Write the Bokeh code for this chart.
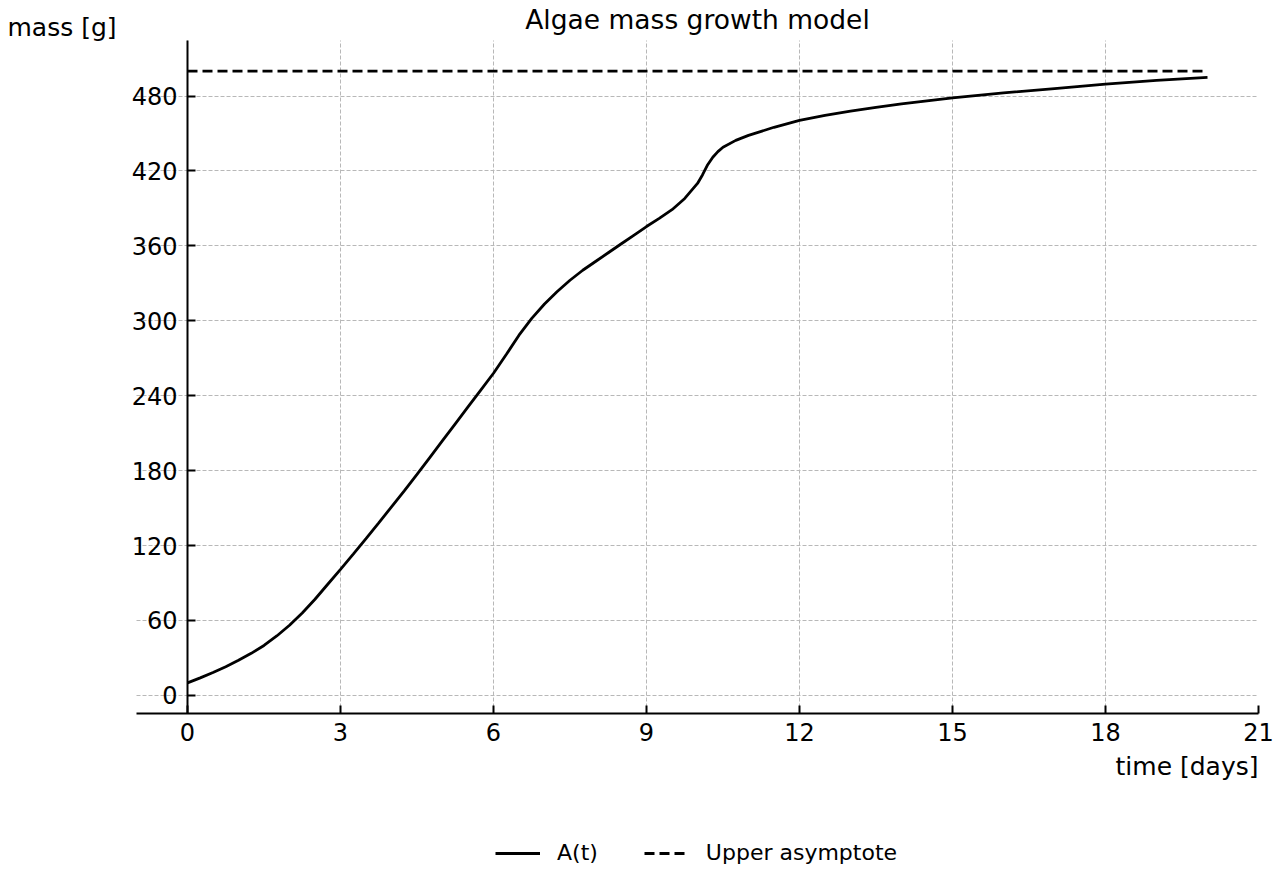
from bokeh.plotting import figure
from bokeh.models import Range1d, Legend, LegendItem, Label, FixedTicker
from bokeh.embed import file_html
from bokeh.resources import INLINE

# ---- data ----
t_days = [0, 0.25, 0.5, 0.75, 1, 1.25, 1.5, 1.75, 2, 2.25, 2.5, 2.75, 3, 3.25, 3.5, 3.75,
          4, 4.25, 4.5, 4.75, 5, 5.25, 5.5, 5.75, 6, 6.25, 6.5, 6.75, 7, 7.25, 7.5, 7.75,
          8, 8.25, 8.5, 8.75, 9, 9.25, 9.5, 9.75, 10, 10.1, 10.2, 10.3, 10.4, 10.5, 10.75,
          11, 11.5, 12, 12.5, 13, 13.5, 14, 15, 16, 17, 18, 19, 20]
mass_g = [10, 14, 18.3, 23, 28.1, 33.7, 40, 47.6, 56.2, 66, 77, 89, 101, 113.2, 125.6, 138.2,
          151, 163.8, 177, 190.5, 204, 217.5, 231, 244.5, 258, 273, 288.5, 302, 313.5, 323.5, 332.5, 340.5,
          347.5, 354.5, 361.5, 368.5, 375.5, 382, 389, 398, 410, 417, 425, 431, 435.5, 439, 444.5,
          448.5, 455, 460.5, 464.5, 468, 471, 473.8, 478.5, 482.5, 486, 489.5, 492.5, 495]
asym_t = [0, 20]
asym_mass = [500, 500]
x_ticks = [0, 3, 6, 9, 12, 15, 18, 21]
y_ticks = [0, 60, 120, 180, 240, 300, 360, 420, 480]
x_lo, x_hi = -1, 21
y_lo, y_hi = -14.5, 524.5

FONT = "DejaVu Sans"
W, H = 1280, 880
FL, FR, FT, FB = 136, 1258, 40, 713   # axes box in canvas pixels
sx = (FR - FL) / (x_hi - x_lo)
sy = (FB - FT) / (y_hi - y_lo)

p = figure(width=W, height=H, output_backend="svg", toolbar_location=None,
           x_range=Range1d(x_lo - FL / sx, x_hi + (W - FR) / sx),
           y_range=Range1d(y_lo - (H - FB) / sy, y_hi + FT / sy),
           min_border=0)
p.outline_line_color = None
p.background_fill_color = "white"
p.border_fill_color = "white"

for ax, ticks in ((p.xaxis, x_ticks), (p.yaxis, y_ticks)):
    ax.ticker = ticks
    ax.minor_tick_line_color = None
    ax.major_tick_in = 8
    ax.major_tick_out = 0
    ax.major_tick_line_width = 2
    ax.axis_line_width = 2
    ax.axis_line_color = "black"
    ax.major_tick_line_color = "black"
    ax.major_label_text_font = FONT
    ax.major_label_text_font_size = "24px"
    ax.major_label_text_color = "black"
p.xaxis.fixed_location = y_lo
p.xaxis.bounds = (x_lo, x_hi)
p.xaxis.major_label_standoff = 9
p.yaxis.fixed_location = 0
p.yaxis.bounds = (y_lo, y_hi)
p.yaxis.major_label_standoff = 10

p.xgrid.ticker = FixedTicker(ticks=[t for t in x_ticks if t < x_hi])
p.xgrid.cross_bounds = (y_lo, y_hi)
p.ygrid.cross_bounds = (x_lo, x_hi)
for g in (p.xgrid, p.ygrid):
    g.grid_line_color = "#b8b8b8"
    g.grid_line_dash = "4 2"
    g.grid_line_width = 1

r1 = p.line(t_days, mass_g, line_color="black", line_width=2.8)
r2 = p.line(asym_t, asym_mass, line_color="black", line_width=2.8, line_dash="10 5")

legend = Legend(items=[LegendItem(label="A(t)", renderers=[r1]),
                       LegendItem(label="Upper asymptote", renderers=[r2])],
                orientation="horizontal", location=(495, 15),
                glyph_width=45, glyph_height=20, label_standoff=17, spacing=46,
                padding=0, margin=0, border_line_color=None, background_fill_alpha=0,
                label_text_font=FONT, label_text_font_size="22px", label_text_color="black")
p.add_layout(legend, "center")

p.add_layout(Label(x=(x_lo + x_hi) / 2, y=y_hi, text="Algae mass growth model", text_align="center",
                   text_baseline="middle", y_offset=21, text_font=FONT, text_font_size="26.5px",
                   text_color="black"))
p.add_layout(Label(x=x_hi, y=y_lo, text="time [days]", text_align="right", text_baseline="middle",
                   y_offset=-53, text_font=FONT, text_font_size="25px", text_color="black"))
p.add_layout(Label(x=x_lo, y=y_hi, text="mass [g]", text_align="left", text_baseline="middle",
                   x_offset=-129, y_offset=13, text_font=FONT, text_font_size="25px", text_color="black"))

open("out.html", "w").write(file_html(p, INLINE))
